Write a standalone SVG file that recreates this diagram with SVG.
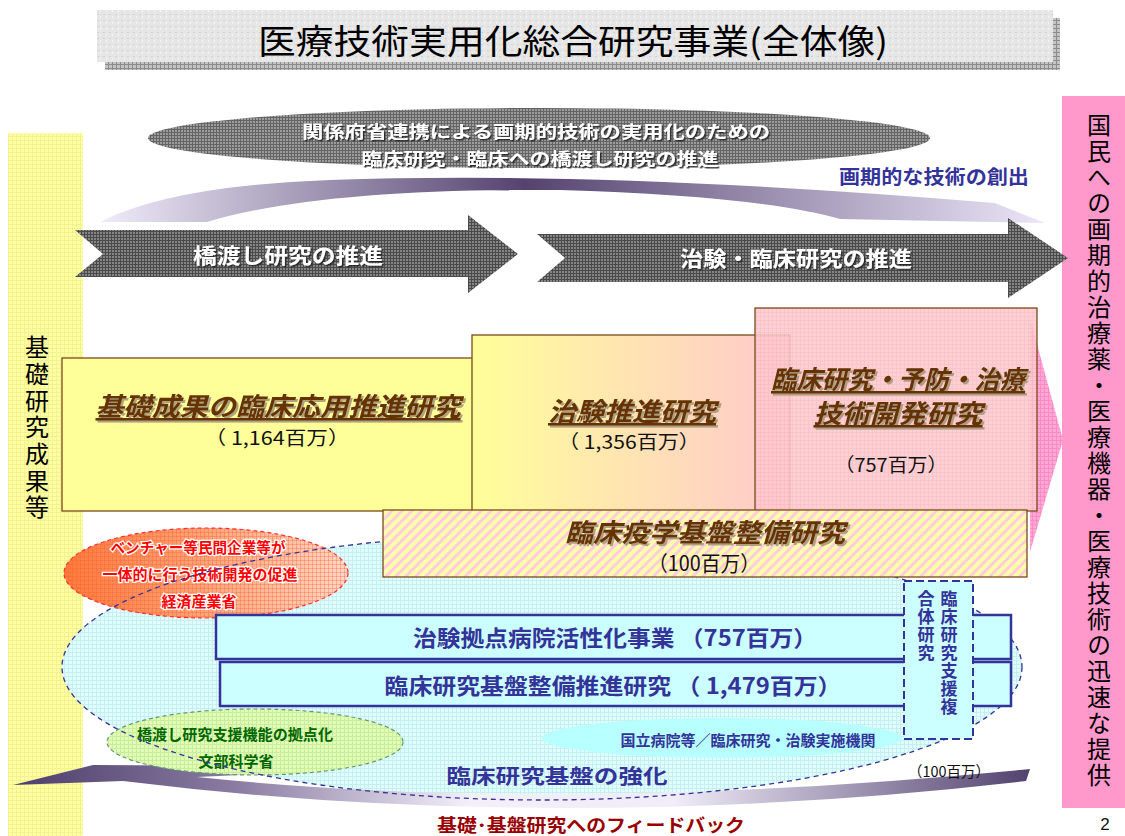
<svg xmlns="http://www.w3.org/2000/svg" width="1125" height="836" viewBox="0 0 1125 836">
<defs>
<style>
text{font-family:"Noto Sans CJK JP","Noto Sans CJK SC",sans-serif;}
.b{font-weight:bold;}
.c{text-anchor:middle;}
.ttl{font-size:26px;font-weight:bold;font-style:italic;fill:#663300;text-decoration:underline;filter:url(#shBrown);}
.amt{font-size:19px;fill:#111;}
.wt{fill:#fff;font-weight:bold;filter:url(#shDark);}
.navy{fill:#333399;font-weight:bold;}
.vt{writing-mode:vertical-rl;}
</style>
<filter id="shBrown" x="-5%" y="-20%" width="110%" height="150%"><feDropShadow dx="2" dy="2" stdDeviation="0.3" flood-color="#a89878" flood-opacity="0.9"/></filter>
<filter id="shDark" x="-5%" y="-20%" width="110%" height="150%"><feDropShadow dx="1.5" dy="1.5" stdDeviation="0.4" flood-color="#222" flood-opacity="0.9"/></filter>
<pattern id="gDark" width="3" height="3" patternUnits="userSpaceOnUse"><rect width="3" height="3" fill="#858585"/><path d="M0 .5H3M.5 0V3" stroke="#4a4a4a" stroke-width="1"/></pattern>
<pattern id="gEll" width="3" height="3" patternUnits="userSpaceOnUse"><rect width="3" height="3" fill="#9c9c9c"/><path d="M0 .5H3M.5 0V3" stroke="#646464" stroke-width="1"/></pattern>
<pattern id="gShadow" width="4" height="4" patternUnits="userSpaceOnUse"><rect width="4" height="4" fill="#c4c4c4"/><path d="M0 .5H4M.5 0V4" stroke="#8c8c8c" stroke-width="1"/></pattern>
<pattern id="gTitle" width="6" height="6" patternUnits="userSpaceOnUse"><rect width="6" height="6" fill="#e6e6e6"/><rect x="1" y="2" width="2" height="1" fill="#d2d2d2"/><rect x="4" y="4" width="1" height="2" fill="#f4f4f4"/></pattern>
<pattern id="gYel" width="4" height="4" patternUnits="userSpaceOnUse"><rect width="4" height="4" fill="#ffffa6"/><path d="M0 .5H4M.5 0V4" stroke="#f3f38e" stroke-width="1"/></pattern>
<pattern id="gPinkT" width="4" height="4" patternUnits="userSpaceOnUse"><rect width="4" height="4" fill="#ffaad6"/><path d="M0 .5H4M.5 0V4" stroke="#ff8ac6" stroke-width="1"/></pattern>
<pattern id="gBox3" width="4" height="4" patternUnits="userSpaceOnUse"><rect width="4" height="4" fill="#ffcacd"/><path d="M0 .5H4M.5 0V4" stroke="#f9bcc4" stroke-width="1"/></pattern>
<pattern id="gCyan" width="4" height="4" patternUnits="userSpaceOnUse"><rect width="4" height="4" fill="#e2ffff"/><path d="M0 .5H4M.5 0V4" stroke="#c6f0f0" stroke-width="1"/></pattern>
<pattern id="gGreen" width="4" height="4" patternUnits="userSpaceOnUse"><rect width="4" height="4" fill="#e2ffb4"/><path d="M0 .5H4M.5 0V4" stroke="#c8eca0" stroke-width="1"/></pattern>
<pattern id="gRedOv" width="4" height="4" patternUnits="userSpaceOnUse"><path d="M0 .5H4M.5 0V4" stroke="#ff5a3c" stroke-opacity=".35" stroke-width="1"/></pattern>
<pattern id="stripe" width="7" height="7" patternUnits="userSpaceOnUse" patternTransform="rotate(45)"><rect width="7" height="7" fill="#ffffaa"/><rect width="3" height="7" fill="#ffccdd"/></pattern>
<linearGradient id="box2g" x1="0" y1="0" x2="1" y2="0"><stop offset="0" stop-color="#ffff99"/><stop offset="1" stop-color="#ffc8cc"/></linearGradient>
<linearGradient id="redg" x1="0" y1="0" x2="1" y2="0"><stop offset="0" stop-color="#ff7a3a"/><stop offset=".45" stop-color="#ffa070"/><stop offset="1" stop-color="#ffd8c4"/></linearGradient>
<linearGradient id="topArr" gradientUnits="userSpaceOnUse" x1="100" y1="0" x2="1045" y2="0"><stop offset="0" stop-color="#f0ecfa"/><stop offset=".45" stop-color="#54436f"/><stop offset="1" stop-color="#ece6f8"/></linearGradient>
<linearGradient id="botArr" gradientUnits="userSpaceOnUse" x1="13" y1="0" x2="1030" y2="0"><stop offset="0" stop-color="#4d3d6b"/><stop offset=".22" stop-color="#8a7ca2"/><stop offset=".45" stop-color="#f4f0fa"/><stop offset=".65" stop-color="#f0ecf8"/><stop offset="1" stop-color="#52426f"/></linearGradient>
</defs>

<g id="title">
<rect x="105" y="18" width="955" height="52" fill="url(#gShadow)"/>
<rect x="97" y="10" width="956" height="52" fill="url(#gTitle)"/>
<text x="573" y="54" class="c" font-size="34" textLength="630" lengthAdjust="spacingAndGlyphs" fill="#000">医療技術実用化総合研究事業(全体像)</text>
</g>

<g id="basic-results">
<rect x="8" y="133" width="75" height="703" fill="url(#gYel)"/>
<text x="37" y="335" class="vt" font-size="24" letter-spacing="2.7" fill="#000">基礎研究成果等</text>
</g>

<g id="provision">
<rect x="1062" y="96" width="63" height="712" fill="#ff99cc"/>
<text x="1099" y="113" class="vt" font-size="24" letter-spacing="2" fill="#000">国民への画期的治療薬・医療機器・医療技術の迅速な提供</text>
</g>

<g id="ministry-ellipse">
<ellipse cx="539" cy="138" rx="391" ry="30" fill="url(#gEll)"/>
<text x="536" y="138" class="c wt" font-size="17" textLength="468" lengthAdjust="spacingAndGlyphs">関係府省連携による画期的技術の実用化のための</text>
<text x="540" y="165" class="c wt" font-size="17" textLength="357" lengthAdjust="spacingAndGlyphs">臨床研究・臨床への橋渡し研究の推進</text>
</g>

<g id="connectors">
<path id="top-arrow" d="M100,222 Q170,186 330,180 Q600,170 995,203 L1045,223 L840,219 Q760,196 560,190 Q320,188 207,222 Z" fill="url(#topArr)"/>
<path id="arrow-bridge" d="M75,230 L468,230 L468,215 L518,254 L468,293 L468,277 L75,277 L103,254 Z" fill="url(#gDark)"/>
<path id="arrow-clinical" d="M537,234 L1008,234 L1008,218 L1068,258 L1008,298 L1008,282 L537,282 L565,258 Z" fill="url(#gDark)"/>
<path id="pink-chevron" d="M1030,318 L1063,440 L1030,552 Z" fill="url(#gPinkT)"/>
</g>

<g id="innovation-label">
<text x="934" y="184" class="c navy" font-size="19" textLength="190" lengthAdjust="spacingAndGlyphs">画期的な技術の創出</text>
</g>

<g id="arrow-labels">
<text x="288" y="263" class="c wt" font-size="21" textLength="190" lengthAdjust="spacingAndGlyphs">橋渡し研究の推進</text>
<text x="796" y="266" class="c wt" font-size="21" textLength="232" lengthAdjust="spacingAndGlyphs">治験・臨床研究の推進</text>
</g>

<g id="infra-ellipse">
<ellipse cx="542" cy="667" rx="480" ry="133" fill="url(#gCyan)"/>
</g>

<g id="meti">
<ellipse cx="206" cy="573" rx="142" ry="45" fill="url(#redg)"/>
<ellipse cx="206" cy="573" rx="142" ry="45" fill="url(#gRedOv)" stroke="#ff3030" stroke-width="1.2" stroke-dasharray="4 3"/>
<text x="198" y="553" class="c b" font-size="15" fill="#ff0000" stroke="#fff" stroke-width="2.5" paint-order="stroke" textLength="175" lengthAdjust="spacingAndGlyphs">ベンチャー等民間企業等が</text>
<text x="200" y="580" class="c b" font-size="15" fill="#ff0000" stroke="#fff" stroke-width="2.5" paint-order="stroke" textLength="195" lengthAdjust="spacingAndGlyphs">一体的に行う技術開発の促進</text>
<text x="199" y="607" class="c b" font-size="15" fill="#ff0000" stroke="#fff" stroke-width="2.5" paint-order="stroke" textLength="75" lengthAdjust="spacingAndGlyphs">経済産業省</text>
</g>

<g id="national-hospitals">
<ellipse cx="722" cy="738" rx="180" ry="20" fill="#b8ffff"/>
<text x="748" y="746" class="c navy" font-size="15" textLength="255" lengthAdjust="spacingAndGlyphs">国立病院等／臨床研究・治験実施機関</text>
</g>

<g id="feedback-arrow">
<path d="M13,785 L93,765 Q200,765 280,769 L280,773 L197,777 Q560,815 1030,769 L1026,781 Q560,835 123,781 Z" fill="url(#botArr)"/>
</g>

<g id="mext">
<ellipse cx="255" cy="742" rx="148" ry="33" fill="url(#gGreen)" stroke="#5f9a6f" stroke-width="1.2" stroke-dasharray="4 3"/>
<text x="235" y="740" class="c b" font-size="15" fill="#006600" textLength="196" lengthAdjust="spacingAndGlyphs">橋渡し研究支援機能の拠点化</text>
<text x="236" y="767" class="c b" font-size="15" fill="#006600" textLength="75" lengthAdjust="spacingAndGlyphs">文部科学省</text>
</g>

<g id="infra-ellipse-outline">
<ellipse cx="542" cy="667" rx="480" ry="133" fill="none" stroke="#333399" stroke-width="1.3" stroke-dasharray="5 4"/>
</g>

<g id="box-basic">
<rect x="62" y="358" width="412" height="153" fill="#ffff99" stroke="#7a4a1a" stroke-width="1.3"/>
<text x="278" y="416" class="c ttl" textLength="365" lengthAdjust="spacingAndGlyphs">基礎成果の臨床応用推進研究</text>
<text x="277" y="445" class="c amt" textLength="145" lengthAdjust="spacingAndGlyphs">（ 1,164百万）</text>
</g>

<g id="box-trial">
<rect x="472" y="335" width="318" height="176" fill="url(#box2g)" stroke="#7a4a1a" stroke-width="1.3"/>
<text x="632" y="421" class="c ttl" textLength="168" lengthAdjust="spacingAndGlyphs">治験推進研究</text>
<text x="629" y="449" class="c amt" textLength="142" lengthAdjust="spacingAndGlyphs">（ 1,356百万）</text>
</g>

<g id="box-prevention">
<rect x="755" y="308" width="282" height="203" fill="url(#gBox3)" fill-opacity=".88" stroke="#7a4a1a" stroke-width="1.3"/>
<text x="898" y="389" class="c ttl" textLength="254" lengthAdjust="spacingAndGlyphs">臨床研究・予防・治療</text>
<text x="898" y="423" class="c ttl" textLength="169" lengthAdjust="spacingAndGlyphs">技術開発研究</text>
<text x="891" y="472" class="c amt" textLength="113" lengthAdjust="spacingAndGlyphs">（757百万）</text>
</g>

<g id="box-epidemiology">
<rect x="383" y="510" width="644" height="67" fill="url(#stripe)" stroke="#7a4a1a" stroke-width="1.3"/>
<text x="705" y="542" class="c" font-size="26" font-weight="bold" font-style="italic" fill="#663300" filter="url(#shBrown)" textLength="280" lengthAdjust="spacingAndGlyphs">臨床疫学基盤整備研究</text>
<text x="704" y="571" class="c" font-size="21" fill="#111" textLength="112" lengthAdjust="spacingAndGlyphs">（100百万）</text>
</g>

<g id="box-hospitals">
<rect x="216" y="615" width="795" height="44" fill="#ccffff" stroke="#333399" stroke-width="2.5"/>
<text x="615" y="646" class="c navy" font-size="22" textLength="404" lengthAdjust="spacingAndGlyphs">治験拠点病院活性化事業 （757百万）</text>
</g>

<g id="box-infra">
<rect x="220" y="662" width="791" height="44" fill="#ccffff" stroke="#333399" stroke-width="2.5"/>
<text x="613" y="694" class="c navy" font-size="22" textLength="457" lengthAdjust="spacingAndGlyphs">臨床研究基盤整備推進研究 （ 1,479百万）</text>
</g>

<g id="support-complex">
<rect x="904" y="581" width="69" height="158" fill="#ccffff" stroke="#333399" stroke-width="2" stroke-dasharray="8 4"/>
<text x="949" y="590" class="vt navy" font-size="17" letter-spacing="1">臨床研究支援複</text>
<text x="926" y="590" class="vt navy" font-size="17" letter-spacing="1">合体研究</text>
</g>

<g id="labels">
<text x="557" y="784" class="c navy" font-size="20" textLength="221" lengthAdjust="spacingAndGlyphs">臨床研究基盤の強化</text>
<text x="949" y="777" class="c" font-size="15" fill="#111" textLength="82" lengthAdjust="spacingAndGlyphs">（100百万）</text>
<text x="591" y="832" class="c b" font-size="18" fill="#990000" textLength="308" lengthAdjust="spacingAndGlyphs">基礎･基盤研究へのフィードバック</text>
<text x="1105" y="830" class="c" font-size="17" fill="#111" style="font-family:'Liberation Sans',sans-serif">2</text>
</g>
</svg>
